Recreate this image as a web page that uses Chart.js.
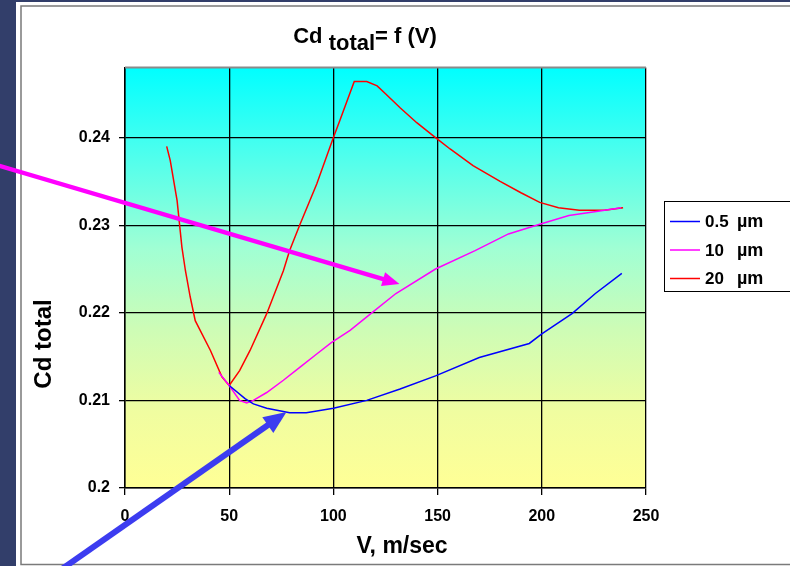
<!DOCTYPE html>
<html>
<head>
<meta charset="utf-8">
<script src="https://cdn.jsdelivr.net/npm/chart.js@4.4.1/dist/chart.umd.min.js"></script>
<style>
  html, body { margin: 0; padding: 0; background: #fff; overflow: hidden; }
  canvas { display: block; }
</style>
</head>
<body>
<canvas id="chart" width="790" height="566"></canvas>
<script>
// Particle size series
const seriesNames  = ['0.5', '10', '20'];
const seriesUnit   = 'µm';
const seriesColors = ['#0000ff', '#ff00ff', '#ff0000'];

// 0.5 µm
const v05  = [50, 57.6, 61.6, 68, 79, 87, 100, 116, 132, 149, 170, 194, 200, 214.5, 225.7, 238.4];
const cd05 = [0.2117, 0.2102, 0.2096, 0.2091, 0.2086, 0.2086, 0.2091, 0.2100, 0.2113, 0.2128, 0.2149, 0.2165, 0.2176, 0.2199, 0.2222, 0.2245];

// 10 µm
const v10  = [45, 50, 55, 58.4, 61.6, 68, 76, 84, 92, 99, 108, 119, 130, 149, 168, 184, 199, 213, 227, 238];
const cd10 = [0.2132, 0.2117, 0.2100, 0.2097, 0.2100, 0.2109, 0.2123, 0.2138, 0.2153, 0.2166, 0.2180, 0.2201, 0.2222, 0.2250, 0.2271, 0.2290, 0.2301, 0.2311, 0.2316, 0.2320];

// 20 µm
const v20  = [20, 21.7, 25, 27.3, 29, 31.3, 33.7, 41, 46.5, 50, 55, 60, 68, 76, 79, 84, 92, 100, 103, 110, 116, 121, 125, 132, 140, 149, 156, 167, 180, 190, 199, 208, 218, 230, 239];
const cd20 = [0.2390, 0.2374, 0.2328, 0.2275, 0.2248, 0.2218, 0.2191, 0.2157, 0.2127, 0.2117, 0.2134, 0.2157, 0.2199, 0.2248, 0.2271, 0.2301, 0.2347, 0.2400, 0.2419, 0.2464, 0.2464, 0.2459, 0.2450, 0.2434, 0.2417, 0.2400, 0.2387, 0.2368, 0.2350, 0.2337, 0.2326, 0.2320, 0.2317, 0.2317, 0.2320];

// Axes
const xTicks = [0, 50, 100, 150, 200, 250];
const xTickLabels = ['0', '50', '100', '150', '200', '250'];
const yTicks = [0.2, 0.21, 0.22, 0.23, 0.24];
const yTickLabels = ['0.2', '0.21', '0.22', '0.23', '0.24'];
const xMin = 0, xMax = 250, yMin = 0.2, yMax = 0.248;
const xTitle = 'V, m/sec';
const yTitle = 'Cd total';

// Pointer arrows (tail, tip) in data units
const pointerColors = ['#ff00ff', '#3c3cf0'];
const pointerTails = [[-61.9, 0.23689], [-30, 0.1908]];
const pointerTips  = [[131.7, 0.2233], [77.5, 0.20867]];
const pointerWidths = [4.5, 6];

const FONT = "'Liberation Sans', Arial, sans-serif";
const toPoints = (vs, cds) => vs.map((v, i) => ({ x: v, y: cds[i] }));
const seriesData = [toPoints(v05, cd05), toPoints(v10, cd10), toPoints(v20, cd20)];

// Frame, panel and plot-area gradient
const backdrop = {
  id: 'backdrop',
  beforeDraw(chart) {
    const { ctx, chartArea: a, width, height } = chart;
    ctx.save();
    ctx.fillStyle = '#323e6a';
    ctx.fillRect(0, 0, width, height);
    ctx.fillStyle = '#ffffff';
    ctx.fillRect(16, 2, width - 16, height - 2);
    ctx.strokeStyle = '#7a7a7a';
    ctx.lineWidth = 1.5;
    ctx.strokeRect(21, 6, width + 10, height - 7.5);
    const g = ctx.createLinearGradient(0, a.top, 0, a.bottom);
    g.addColorStop(0, 'rgb(0,255,255)');
    g.addColorStop(0.2, 'rgb(75,255,238)');
    g.addColorStop(0.43, 'rgb(160,255,212)');
    g.addColorStop(0.62, 'rgb(205,252,182)');
    g.addColorStop(0.82, 'rgb(240,253,160)');
    g.addColorStop(1, 'rgb(255,255,150)');
    ctx.fillStyle = g;
    ctx.fillRect(a.left, a.top, a.right - a.left, a.bottom - a.top);
    ctx.restore();
  }
};

function drawArrow(ctx, x0, y0, x1, y1, color, w) {
  const ang = Math.atan2(y1 - y0, x1 - x0);
  const headLen = w * 3.8, headHalf = w * 1.6;
  const bx = x1 - Math.cos(ang) * headLen, by = y1 - Math.sin(ang) * headLen;
  ctx.strokeStyle = color;
  ctx.fillStyle = color;
  ctx.lineWidth = w;
  ctx.lineCap = 'butt';
  ctx.beginPath();
  ctx.moveTo(x0, y0);
  ctx.lineTo(bx + Math.cos(ang) * 2, by + Math.sin(ang) * 2);
  ctx.stroke();
  ctx.beginPath();
  ctx.moveTo(x1, y1);
  ctx.lineTo(bx + Math.sin(ang) * headHalf, by - Math.cos(ang) * headHalf);
  ctx.lineTo(bx - Math.sin(ang) * headHalf, by + Math.cos(ang) * headHalf);
  ctx.closePath();
  ctx.fill();
}

// Title, axis titles, legend box, top frame of the plot and pointer arrows
const overlay = {
  id: 'overlay',
  afterDraw(chart) {
    const { ctx, chartArea: a, scales } = chart;
    ctx.save();
    // plot top edge
    ctx.strokeStyle = '#8a8a8a';
    ctx.lineWidth = 2;
    ctx.beginPath();
    ctx.moveTo(a.left, a.top);
    ctx.lineTo(a.right, a.top);
    ctx.stroke();

    // title: Cd with subscript "total" = f (V)
    ctx.fillStyle = '#000';
    ctx.textBaseline = 'alphabetic';
    ctx.textAlign = 'left';
    const big = 'bold 22px ' + FONT;
    const parts = [['Cd ', big, 0], ['total', big, 7], ['= f (V)', big, 0]];
    let total = 0;
    parts.forEach(p => { ctx.font = p[1]; total += ctx.measureText(p[0]).width; });
    let x = 365 - total / 2;
    parts.forEach(p => {
      ctx.font = p[1];
      ctx.fillText(p[0], x, 43 + p[2]);
      x += ctx.measureText(p[0]).width;
    });

    // axis titles
    ctx.font = 'bold 23px ' + FONT;
    ctx.textAlign = 'center';
    ctx.textBaseline = 'middle';
    ctx.fillText(xTitle, 402, 547);
    ctx.save();
    ctx.translate(44, 344);
    ctx.rotate(-Math.PI / 2);
    ctx.font = 'bold 24px ' + FONT;
    ctx.fillText(yTitle, 0, 0);
    ctx.restore();
    ctx.textAlign = 'left';

    // legend
    ctx.strokeStyle = '#000';
    ctx.lineWidth = 1;
    ctx.fillStyle = '#fff';
    ctx.fillRect(664.5, 201.5, 140, 90);
    ctx.strokeRect(664.5, 201.5, 140, 90);
    chart.data.datasets.forEach((ds, i) => {
      const y = 221.5 + i * 28.5;
      ctx.strokeStyle = ds.borderColor;
      ctx.lineWidth = 1.5;
      ctx.beginPath();
      ctx.moveTo(670, y);
      ctx.lineTo(700, y);
      ctx.stroke();
      ctx.fillStyle = '#000';
      ctx.textBaseline = 'middle';
      ctx.font = 'bold 17px ' + FONT;
      ctx.fillText(seriesNames[i], 705, y + 1);
      ctx.font = 'bold 18px ' + FONT;
      ctx.fillText(seriesUnit, 737, y + 1);
    });

    // pointer arrows
    const sx = scales.x, sy = scales.y;
    pointerTips.forEach((tip, i) => {
      const t = pointerTails[i];
      drawArrow(ctx,
        sx.getPixelForValue(t[0]), sy.getPixelForValue(t[1]),
        sx.getPixelForValue(tip[0]), sy.getPixelForValue(tip[1]),
        pointerColors[i], pointerWidths[i]);
    });
    ctx.restore();
  }
};

new Chart(document.getElementById('chart'), {
  type: 'line',
  data: {
    datasets: seriesData.map((d, i) => ({
      label: seriesNames[i] + ' ' + seriesUnit,
      data: d,
      borderColor: seriesColors[i],
      backgroundColor: seriesColors[i],
      borderWidth: 1.5,
      pointRadius: 0,
      tension: 0,
      fill: false
    }))
  },
  options: {
    responsive: false,
    animation: false,
    devicePixelRatio: 1,
    layout: { padding: { left: 20, top: 67.5, right: 144, bottom: 0 } },
    plugins: { legend: { display: false }, tooltip: { enabled: false }, title: { display: false } },
    scales: {
      x: {
        type: 'linear',
        min: xMin, max: xMax,
        afterBuildTicks: s => { s.ticks = xTicks.map(v => ({ value: v })); },
        afterFit: s => { s.height = 78; },
        grid: { color: '#000', lineWidth: 1.3, tickLength: 7, tickColor: '#000', drawTicks: true },
        border: { color: '#000', width: 1.5 },
        ticks: {
          color: '#000', padding: 12, maxRotation: 0, autoSkip: false,
          font: { family: FONT, size: 16, weight: 'bold' },
          callback: v => xTickLabels[xTicks.indexOf(v)] ?? ''
        },
        title: { display: false }
      },
      y: {
        type: 'linear',
        min: yMin, max: yMax,
        afterBuildTicks: s => { s.ticks = yTicks.map(v => ({ value: v })); },
        afterFit: s => { s.width = 105; },
        grid: { color: '#000', lineWidth: 1.3, tickLength: 6, tickColor: '#000', drawTicks: true },
        border: { color: '#000', width: 1.5 },
        ticks: {
          color: '#000', padding: 9, autoSkip: false,
          font: { family: FONT, size: 16, weight: 'bold' },
          callback: v => yTickLabels[yTicks.indexOf(v)] ?? ''
        },
        title: { display: false }
      }
    }
  },
  plugins: [backdrop, overlay]
});
</script>
</body>
</html>
